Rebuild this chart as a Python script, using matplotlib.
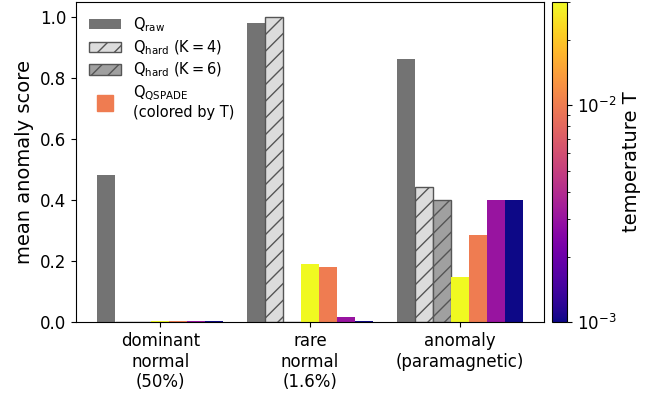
import numpy as np
import matplotlib
matplotlib.use("Agg")
import matplotlib.pyplot as plt
from matplotlib.colors import LogNorm
from matplotlib.lines import Line2D
from matplotlib.patches import Patch
from matplotlib.ticker import LogLocator, NullFormatter

# scenario groups on the x axis
categories = ["dominant\nnormal\n(50%)", "rare\nnormal\n(1.6%)", "anomaly\n(paramagnetic)"]

# mean anomaly score per group
q_raw = [0.483, 0.980, 0.863]
q_hard4 = [0.0, 1.000, 0.444]
q_hard6 = [0.0, 0.0, 0.401]

# QSPADE scores, one row per temperature
temperatures = [0.03, 0.01, 0.003, 0.001]
q_qspade = [
    [0.002, 0.189, 0.149],
    [0.002, 0.179, 0.287],
    [0.002, 0.015, 0.401],
    [0.002, 0.003, 0.401],
]

x = np.arange(len(categories))
w = 0.12
edge = "#555555"

fig = plt.figure(figsize=(6.62, 3.98), dpi=100)
ax = fig.add_axes([0.1148, 0.191, 0.707, 0.804])
cax = fig.add_axes([0.834, 0.191, 0.0227, 0.804])

ax.bar(x - 3 * w, q_raw, w, color="#737373")
ax.bar(x - 2 * w, q_hard4, w, color="#dcdcdc", edgecolor=edge, hatch="//", linewidth=1)
ax.bar(x - 1 * w, q_hard6, w, color="#a0a0a0", edgecolor=edge, hatch="//", linewidth=1)

cmap = plt.get_cmap("plasma")
norm = LogNorm(vmin=min(temperatures), vmax=max(temperatures))
for i, (T, vals) in enumerate(zip(temperatures, q_qspade)):
    ax.bar(x + i * w, vals, w, color=cmap(norm(T)))

ax.set_xticks(x)
ax.set_xticklabels(categories, fontsize=12)
ax.tick_params(axis="y", labelsize=12)
ax.set_ylabel("mean anomaly score", fontsize=14)

handles = [
    Patch(facecolor="#737373", label=r"$\mathrm{Q_{raw}}$"),
    Patch(facecolor="#dcdcdc", edgecolor=edge, hatch="//", label=r"$\mathrm{Q_{hard}}$ $(\mathrm{K=4})$"),
    Patch(facecolor="#a0a0a0", edgecolor=edge, hatch="//", label=r"$\mathrm{Q_{hard}}$ $(\mathrm{K=6})$"),
    Line2D([], [], marker="s", linestyle="none", markersize=11, color=cmap(norm(0.01)),
           label="$\\mathrm{Q_{QSPADE}}$\n(colored by T)"),
]
ax.legend(handles=handles, loc="upper left", frameon=False, fontsize=10.5,
          labelspacing=0.3, handlelength=2.2)

sm = plt.cm.ScalarMappable(norm=norm, cmap=cmap)
cb = fig.colorbar(sm, cax=cax)
cb.ax.yaxis.set_minor_locator(LogLocator(subs=np.arange(2, 10)))
cb.ax.yaxis.set_minor_formatter(NullFormatter())
cb.ax.tick_params(labelsize=12)
cb.set_label("temperature T", fontsize=14)

fig.savefig("out.png", dpi=100)
